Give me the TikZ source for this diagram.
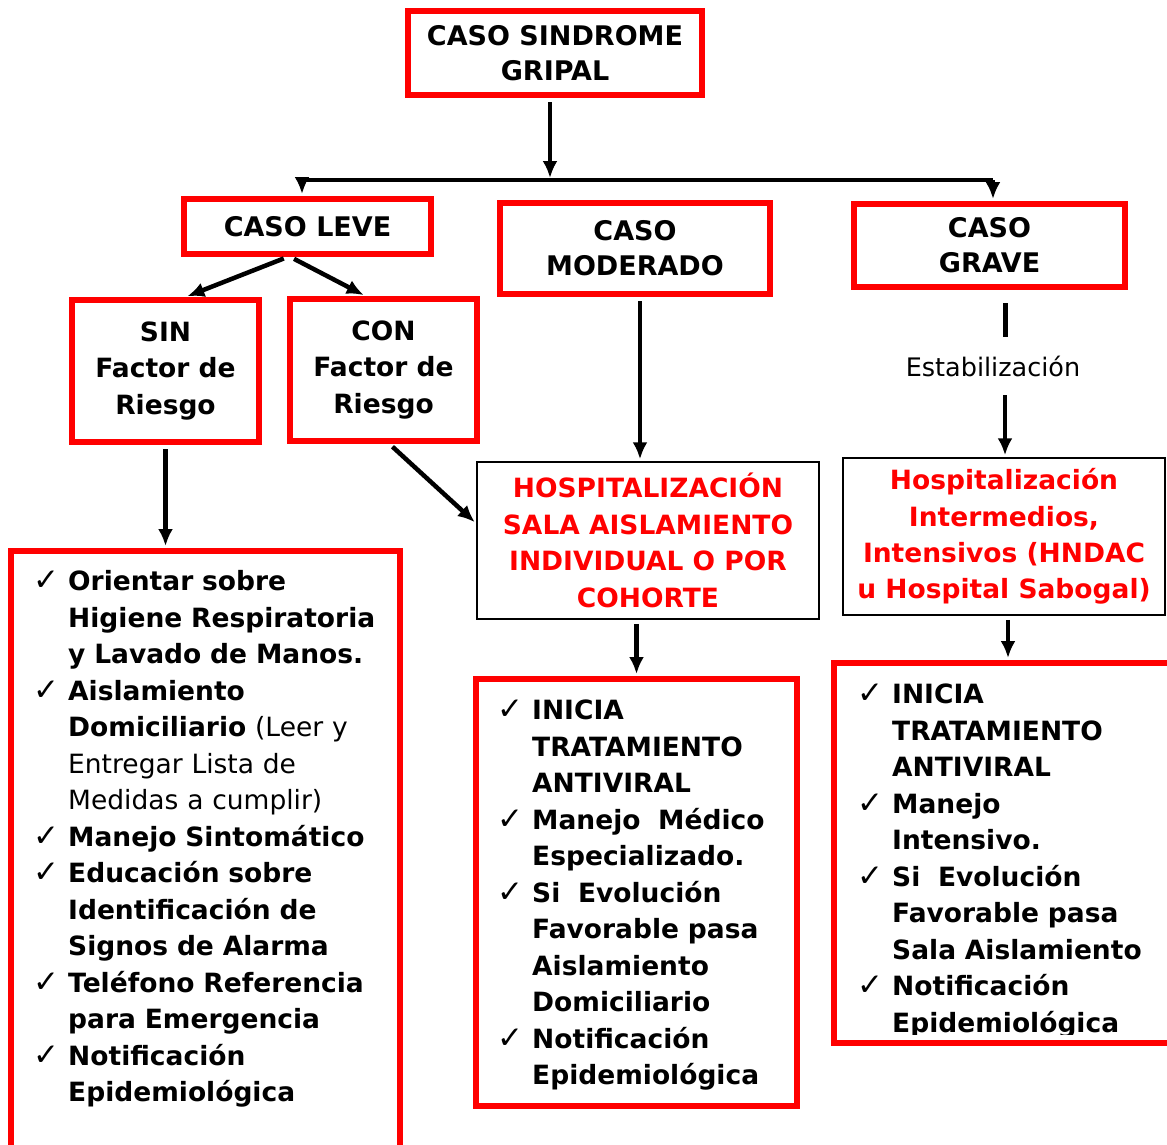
\documentclass[tikz,border=0pt]{standalone}
\usepackage{fontspec}
\setmainfont{DejaVu Sans}
\usepackage{tikz}
\usetikzlibrary{arrows.meta, positioning}
\definecolor{boxred}{RGB}{255,0,0}
\tikzstyle{redbox} = [rectangle, draw=boxred, line width=6pt, fill=white, align=center,
    inner sep=0pt, font=\fontsize{27}{35}\selectfont\bfseries]
\tikzstyle{factorbox} = [redbox, font=\fontsize{26.5}{36.5}\selectfont\bfseries]
\tikzstyle{hospbox} = [rectangle, draw=black, line width=1.5pt, text=boxred, align=center,
    inner sep=0pt, font=\fontsize{26.5}{36.5}\selectfont\bfseries]
\tikzstyle{listbox} = [rectangle, draw=boxred, line width=6pt, inner sep=0pt]
\tikzstyle{items} = [anchor=north west, inner sep=0pt, align=left, text width=400pt,
    font=\fontsize{26.5}{36.5}\selectfont\bfseries]
\tikzstyle{line} = [draw, line width=4.5pt, -{Latex[length=17pt,width=15pt]}, shorten <=4pt, shorten >=2pt]
\newcommand{\chk}{\par\hangindent=35pt\hangafter=1\noindent\makebox[35pt][l]{\mdseries\fontsize{31}{36.5}\selectfont ✓}}

\begin{document}
\begin{tikzpicture}[x=1pt, y=-1pt]
      \useasboundingbox (0,0) rectangle (1167,1144);
      % Casos
      \node [redbox, minimum width=294pt, minimum height=84pt] (gripal) at (555,53) {CASO SINDROME\\GRIPAL};
      \node [redbox, minimum width=247pt, minimum height=55pt] (leve) at (307.5,226.5) {CASO LEVE};
      \node [redbox, minimum width=270pt, minimum height=91pt] (moderado) at (635,248.5) {CASO\\MODERADO};
      \node [redbox, minimum width=271pt, minimum height=83pt] (grave) at (989.5,245.5) {CASO\\GRAVE};
      \node [factorbox, minimum width=187pt, minimum height=142pt] (sinFactor) at (165.5,371) {SIN\\Factor de\\Riesgo};
      \node [factorbox, minimum width=187pt, minimum height=142pt] (conFactor) at (383.5,370) {CON\\Factor de\\Riesgo};
      \node [inner sep=0pt, minimum height=58pt, font=\fontsize{25.5}{30}\selectfont] (estab) at (993,366) {Estabilización};
      % Hospitalizacion
      \node [hospbox, minimum width=342pt, minimum height=157pt] (hospMod) at (648,540.5) {HOSPITALIZACIÓN\\SALA AISLAMIENTO\\INDIVIDUAL O POR\\COHORTE};
      \node [hospbox, minimum width=322pt, minimum height=157pt] (hospGrave) at (1004,536.5) {Hospitalización\\Intermedios,\\Intensivos (HNDAC\\u Hospital Sabogal)};
      % Listas
      \node [listbox, minimum width=389pt, minimum height=620pt] (leveList) at (205.5,861) {};
      \node [listbox, minimum width=321pt, minimum height=427pt] (modList) at (636.5,892.5) {};
      \node [listbox, minimum width=346pt, minimum height=380pt] (graveList) at (1007,853) {};
      \node [items] (leveItems) at (33,554) {\chk Orientar sobre\newline Higiene Respiratoria\newline y Lavado de Manos.
        \chk Aislamiento\newline Domiciliario {\mdseries (Leer y\newline Entregar Lista de\newline Medidas a cumplir)}
        \chk Manejo Sintomático
        \chk Educación sobre\newline Identificación de\newline Signos de Alarma
        \chk Teléfono Referencia\newline para Emergencia
        \chk Notificación\newline Epidemiológica\par};
      \node [items] (modItems) at (497,683) {\chk INICIA\newline TRATAMIENTO\newline ANTIVIRAL
        \chk Manejo\ \ Médico\newline Especializado.
        \chk Si\ \ Evolución\newline Favorable pasa\newline Aislamiento\newline Domiciliario
        \chk Notificación\newline Epidemiológica\par};
      \begin{scope}
        \clip (834,663) rectangle (1167,1034);
        \node [items] (graveItems) at (857,667) {\chk INICIA\newline TRATAMIENTO\newline ANTIVIRAL
          \chk Manejo\newline Intensivo.
          \chk Si\ \ Evolución\newline Favorable pasa\newline Sala Aislamiento
          \chk Notificación\newline Epidemiológica\par};
      \end{scope}
      % Draw edges
      \coordinate (busM) at (550,180);
      \coordinate (busL) at (302,180);
      \coordinate (busR) at (993,180);
      \path [line] (gripal.south -| busM) -- (busM);
      \draw [line width=4.5pt] (busL) -- (busR);
      \path [line, shorten <=0pt] (busL) -- (busL |- leve.north);
      \path [line, shorten <=0pt] (busR) -- (busR |- grave.north);
      \path [line] ([xshift=-20pt]leve.south) -- ([xshift=20pt]sinFactor.north);
      \path [line] ([xshift=-17pt]leve.south) -- ([xshift=-18pt]conFactor.north);
      \path [line] (sinFactor.south) -- (sinFactor.south |- leveList.north);
      \path [line] ([xshift=6pt]conFactor.south) -- ([yshift=17pt]hospMod.west);
      \path [line] ([xshift=5pt]moderado.south) -- ([xshift=5pt]moderado.south |- hospMod.north);
      \path [line] (modList.north |- hospMod.south) -- (modList.north);
      \draw [line width=5pt] ([xshift=15.5pt,yshift=-13pt]grave.south) -- ([xshift=12pt]estab.north);
      \path [line, shorten <=0pt] ([xshift=12pt]estab.south) -- ([xshift=1pt]hospGrave.north);
      \path [line] ([xshift=4pt]hospGrave.south) -- ([xshift=4pt]hospGrave.south |- graveList.north);
\end{tikzpicture}
\end{document}
